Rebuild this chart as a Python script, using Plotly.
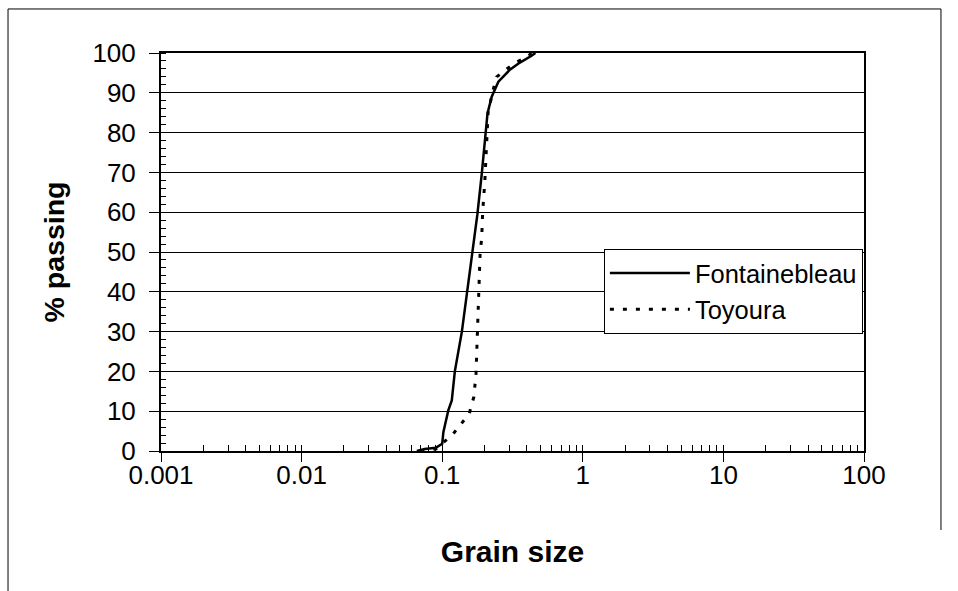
import plotly.graph_objects as go

# Data
font_x = [0.066, 0.075, 0.09, 0.1, 0.102, 0.1105, 0.117, 0.123, 0.138, 0.151, 0.165, 0.178, 0.191, 0.205,
          0.210, 0.225, 0.251, 0.303, 0.357, 0.432, 0.46]
font_y = [0, 0.5, 0.8, 1.8, 4.8, 10.2, 12.7, 20, 30, 40, 50, 59.5, 69.5, 80,
          84.8, 89, 92.8, 95.8, 97.6, 99.3, 100]

toy_x = [0.07, 0.09, 0.1, 0.119, 0.1355, 0.156, 0.160, 0.168, 0.174, 0.178, 0.183, 0.186, 0.191,
         0.194, 0.201, 0.205, 0.212, 0.230, 0.244, 0.288, 0.338, 0.406, 0.43]
toy_y = [0, 0.5, 1.9, 4.2, 6.7, 9.4, 11, 13.6, 19.5, 29.5, 39.5, 49.5, 53.6,
         60, 67.75, 75, 85, 90.7, 94, 96, 97.75, 99, 100]

x_major = [0.001, 0.01, 0.1, 1, 10, 100]
x_major_text = ["0.001", "0.01", "0.1", "1", "10", "100"]
x_all_ticks = [m * d for d in [0.001, 0.01, 0.1, 1, 10] for m in range(1, 10)] + [100]

FONT = "Liberation Sans, Arial, sans-serif"

fig = go.Figure()
fig.add_trace(go.Scatter(x=font_x, y=font_y, mode="lines", name="Fontainebleau",
                         line=dict(color="black", width=2.5)))
fig.add_trace(go.Scatter(x=toy_x, y=toy_y, mode="lines", name="Toyoura",
                         line=dict(color="black", width=3, dash="4px,9px")))
# invisible trace to carry the overlay axis for inside tick marks
fig.add_trace(go.Scatter(x=font_x, y=font_y, mode="lines", xaxis="x2", showlegend=False,
                         hoverinfo="skip", line=dict(color="rgba(0,0,0,0)", width=0)))

fig.update_layout(
    width=958, height=591,
    margin=dict(l=161, r=94, t=53, b=140),
    paper_bgcolor="white", plot_bgcolor="white",
    font=dict(family=FONT, color="black", size=26),
    showlegend=True,
    legend=dict(x=0.630, y=0.5075, xanchor="left", yanchor="top",
                bordercolor="black", borderwidth=1, bgcolor="white",
                font=dict(size=25.5, family=FONT), itemwidth=80),
    xaxis=dict(type="log", range=[-3, 2], tickvals=x_major, ticktext=x_major_text,
               ticks="outside", ticklen=9, tickwidth=1, tickcolor="black",
               showline=True, linewidth=2, linecolor="black", mirror=True,
               showgrid=False, zeroline=False, ticklabelstandoff=-9,
               tickfont=dict(size=26),
               title=dict(text="<b>Grain size</b>", font=dict(size=30), standoff=52)),
    xaxis2=dict(type="log", range=[-3, 2], overlaying="x", anchor="y", side="bottom",
                tickvals=x_all_ticks, ticks="inside", ticklen=6, tickwidth=1, tickcolor="black",
                showticklabels=False, showgrid=False, showline=False, zeroline=False),
    yaxis=dict(range=[0, 100], dtick=10, ticks="outside", ticklen=10, tickwidth=1, tickcolor="black",
               showgrid=True, gridcolor="black", gridwidth=1,
               showline=True, linewidth=2, linecolor="black", mirror=True, zeroline=False,
               minor=dict(ticks="inside", ticklen=5, dtick=2, tickcolor="black", showgrid=False),
               ticklabelstandoff=8,
               tickfont=dict(size=26),
               title=dict(text="<b>% passing</b>", font=dict(size=28.5), standoff=19)),
    shapes=[
        dict(type="line", xref="paper", yref="paper", x0=-0.2176, x1=-0.2176, y0=-0.3518, y1=1.1106,
             line=dict(color="black", width=1)),
        dict(type="line", xref="paper", yref="paper", x0=-0.2176, x1=1.1095, y0=1.1106, y1=1.1106,
             line=dict(color="black", width=1)),
        dict(type="line", xref="paper", yref="paper", x0=1.1095, x1=1.1095, y0=1.1106, y1=-0.1985,
             line=dict(color="black", width=1)),
    ],
)

fig.write_html("out.html")
